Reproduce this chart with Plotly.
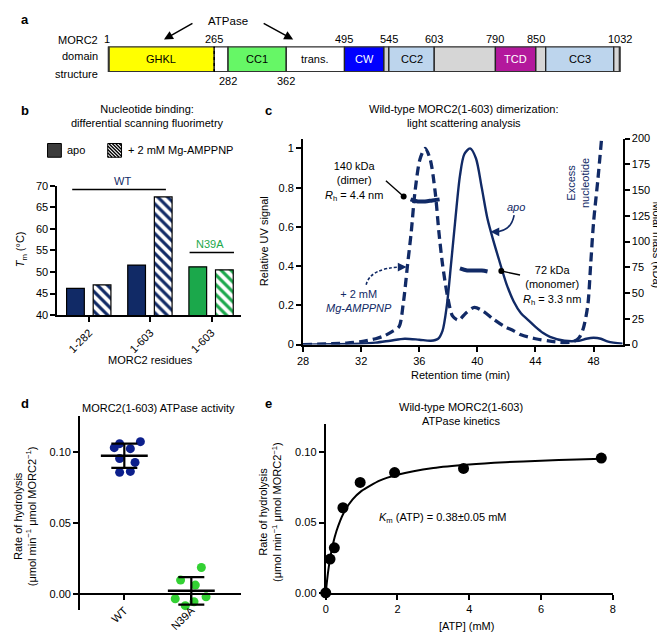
import numpy as np
import plotly.graph_objects as go

W, H = 665, 634
FONT = "Liberation Sans, Arial, Helvetica, sans-serif"
NAVY = "#112a66"
GREEN_B = "#1ba84b"
BLUE_D = "#0c1f8c"
GREEN_D = "#33d133"

# ---------------- panel a : MORC2 domain structure ----------------
DOMAIN_LABELS = ["GHKL", "", "CC1", "trans.", "CW", "", "CC2", "", "TCD", "", "CC3", ""]
DOMAIN_START = [1, 265, 282, 362, 495, 540, 545, 603, 790, 850, 862, 1024]
DOMAIN_END = [265, 282, 362, 495, 540, 545, 603, 790, 850, 862, 1024, 1032]
DOMAIN_COLORS = ["#ffff00", "#ffffff", "#66f766", "#ffffff", "#0000ff", "#cfcfcf",
                 "#bdd5ed", "#d6d6d6", "#b3189c", "#d6d6d6", "#bdd5ed", "#d6d6d6"]
DOMAIN_TEXT_COLORS = ["black", "black", "black", "black", "white", "black",
                      "black", "black", "white", "black", "black", "black"]
RES_LABELS_TOP = [1, 265, 495, 545, 603, 790, 850, 1032]
RES_LABELS_BOTTOM = [282, 362]
# the schematic is not drawn to scale: residue number -> drawing position
SCHEME_RES = [1, 265, 282, 362, 495, 540, 545, 603, 790, 850, 862, 1024, 1032]
SCHEME_POS = [96, 203, 217, 276, 335, 375, 380, 426, 488, 529, 539, 608, 614]

# ---------------- panel b : DSF ----------------
B_CATEGORIES = ["1-282", "1-603", "1-603"]
B_GROUP = ["WT", "WT", "N39A"]
B_TM_APO = [46.2, 51.6, 51.2]
B_TM_AMPPNP = [47.0, 67.4, 50.5]

# ---------------- panel c : SEC-MALS ----------------
C_TIME_APO = [28, 30, 32, 33, 34, 35, 36, 36.8, 37.3, 37.6, 37.9, 38.2, 38.5, 38.8, 39.1,
              39.5, 39.9, 40.3, 40.7, 41.1, 41.5, 42.0, 42.5, 43.0, 43.5, 44.0, 44.5, 45.0,
              46.0, 47.0, 47.5, 48.0, 48.5, 49.0, 50.0]
C_UV_APO = [0.0, 0.002, 0.005, 0.01, 0.02, 0.03, 0.025, 0.02, 0.03, 0.07, 0.2, 0.42, 0.65,
            0.86, 0.97, 1.0, 0.95, 0.8, 0.64, 0.53, 0.43, 0.31, 0.22, 0.16, 0.125, 0.09,
            0.06, 0.04, 0.02, 0.02, 0.03, 0.035, 0.03, 0.015, 0.005]
C_TIME_AMP = [28, 29, 30, 31, 32, 33, 33.6, 34.1, 34.6, 34.9, 35.2, 35.45, 35.7, 36.05,
              36.4, 36.75, 37.1, 37.35, 37.6, 37.95, 38.3, 38.7, 39.2, 39.8, 40.4, 41.1,
              41.8, 42.5, 43.0, 44.0, 45.0, 46.0, 46.6, 47.0, 47.3, 47.6, 47.8, 48.0,
              48.3, 48.55]
C_UV_AMP = [0, 0.002, 0.005, 0.008, 0.015, 0.03, 0.045, 0.065, 0.09, 0.21, 0.41, 0.575,
            0.775, 0.945, 1.0, 0.945, 0.775, 0.575, 0.41, 0.245, 0.145, 0.125, 0.16, 0.19,
            0.17, 0.13, 0.095, 0.07, 0.05, 0.03, 0.018, 0.01, 0.015, 0.035, 0.085, 0.2,
            0.41, 0.625, 0.845, 1.05]
C_MASS_DIMER_T = [35.4, 35.9, 36.4, 36.9, 37.4]
C_MASS_DIMER = [141, 139, 139, 140, 141]
C_MASS_MONO_T = [38.8, 39.3, 39.8, 40.3, 40.7]
C_MASS_MONO = [74, 72, 72, 72, 71]

# ---------------- panel d : ATPase activity ----------------
D_CATEGORIES = ["WT", "N39A"]
D_WT = [0.1029, 0.1057, 0.1022, 0.1071, 0.0953, 0.0925, 0.0855, 0.0862]
D_WT_JITTER = [-0.15, -0.07, 0.09, 0.24, -0.07, 0.16, -0.07, 0.09]
D_N39A = [0.0186, 0.0097, 0.0062, -0.0034, -0.0021, -0.0055, -0.0083]
D_N39A_JITTER = [0.15, -0.16, 0.06, -0.24, 0.22, 0.04, -0.09]

# ---------------- panel e : kinetics ----------------
E_ATP = [0, 0.12, 0.24, 0.48, 0.96, 1.92, 3.84, 7.68]
E_RATE = [0, 0.024, 0.032, 0.0605, 0.0785, 0.0855, 0.0885, 0.0958]
E_FIT_ATP = [0, 0.05, 0.1, 0.2, 0.3, 0.5, 0.75, 1.0, 1.5, 2.0, 3.0, 4.0, 5.0, 6.0, 7.0, 7.7]
E_FIT_RATE = [0, 0.0116, 0.021, 0.0345, 0.044, 0.0568, 0.0664, 0.0725, 0.0798, 0.084,
              0.0888, 0.0913, 0.0929, 0.094, 0.0948, 0.0953]


def X(px):
    return px / W


def Y(py):
    return 1 - py / H


def scheme(res):
    return float(np.interp(res, SCHEME_RES, SCHEME_POS))


def ax(**kw):
    base = dict(showgrid=False, zeroline=False, showline=True, linecolor="black",
                linewidth=2, ticks="outside", ticklen=5, tickwidth=2, tickcolor="black",
                tickfont=dict(size=11, color="black", family=FONT), fixedrange=True)
    base.update(kw)
    return base


fig = go.Figure()
shapes = []
annotations = []


def text(px, py, t, size=11, color="black", xanchor="center", angle=0):
    annotations.append(dict(xref="paper", yref="paper", x=X(px), y=Y(py), text=t,
                            showarrow=False, xanchor=xanchor, yanchor="middle",
                            textangle=angle,
                            font=dict(size=size, color=color, family=FONT)))


def line(x0, y0, x1, y1, color="black", width=1.5, dash="solid"):
    shapes.append(dict(type="line", xref="paper", yref="paper", x0=X(x0), y0=Y(y0),
                       x1=X(x1), y1=Y(y1), line=dict(color=color, width=width, dash=dash)))


def dot(px, py, r=3):
    shapes.append(dict(type="circle", xref="paper", yref="paper", x0=X(px - r), x1=X(px + r),
                       y0=Y(py + r), y1=Y(py - r), fillcolor="black",
                       line=dict(color="black", width=0)))


def arrowhead(px, py, dx, dy, color="black"):
    annotations.append(dict(xref="paper", yref="paper", x=X(px), y=Y(py), ax=dx, ay=dy,
                            text="", showarrow=True, arrowhead=2, arrowsize=1.1,
                            arrowwidth=1.6, arrowcolor=color))


def qpath(p0, c, p1, color, width=1.6, dash="solid"):
    path = "M {} {} Q {} {} {} {}".format(X(p0[0]), Y(p0[1]), X(c[0]), Y(c[1]),
                                          X(p1[0]), Y(p1[1]))
    shapes.append(dict(type="path", xref="paper", yref="paper", path=path,
                       line=dict(color=color, width=width, dash=dash)))


# ===== panel a =====
starts = [scheme(s) for s in DOMAIN_START]
ends = [scheme(e) for e in DOMAIN_END]
fig.add_trace(go.Bar(orientation="h", y=[0.5] * len(starts), base=starts,
                     x=[e - s for s, e in zip(starts, ends)], width=1,
                     marker=dict(color=DOMAIN_COLORS, line=dict(color="#222", width=1.3)),
                     xaxis="x", yaxis="y", showlegend=False, hoverinfo="skip"))
for lab, s, e, tc in zip(DOMAIN_LABELS, starts, ends, DOMAIN_TEXT_COLORS):
    if lab:
        annotations.append(dict(xref="x", yref="y", x=(s + e) / 2, y=0.5, text=lab,
                                showarrow=False, font=dict(size=11, color=tc, family=FONT)))
shapes.append(dict(type="rect", xref="x", yref="y", x0=starts[0], x1=ends[-1], y0=0, y1=1,
                   line=dict(color="#333", width=2)))
shapes.append(dict(type="line", xref="x", yref="y", x0=scheme(265), x1=scheme(265), y0=0,
                   y1=1, line=dict(color="black", width=1.5, dash="dot")))
for r in RES_LABELS_TOP:
    annotations.append(dict(xref="x", yref="paper", x=scheme(r) - (2 if r == 1 else 0),
                            y=Y(25), text=str(r), showarrow=False, yanchor="middle",
                            font=dict(size=11, color="black", family=FONT)))
for r in RES_LABELS_BOTTOM:
    annotations.append(dict(xref="x", yref="paper", x=scheme(r), y=Y(68), text=str(r),
                            showarrow=False, yanchor="middle",
                            font=dict(size=11, color="black", family=FONT)))
text(87, 26, "MORC2", xanchor="right")
text(87, 43, "domain", xanchor="right")
text(87, 61, "structure", xanchor="right")
text(217, 7, "ATPase", size=11.5)
annotations.append(dict(xref="paper", yref="paper", x=X(152), y=Y(26), ax=30, ay=-17,
                        text="", showarrow=True, arrowhead=2, arrowsize=1.2, arrowwidth=1.5,
                        arrowcolor="black"))
annotations.append(dict(xref="paper", yref="paper", x=X(283), y=Y(26), ax=-31, ay=-17,
                        text="", showarrow=True, arrowhead=2, arrowsize=1.2, arrowwidth=1.5,
                        arrowcolor="black"))

# ===== panel b =====
b_col = [NAVY if g == "WT" else GREEN_B for g in B_GROUP]
bx = list(range(len(B_CATEGORIES)))
fig.add_trace(go.Bar(x=bx, y=B_TM_APO, width=0.29, offset=-0.37, xaxis="x2", yaxis="y2",
                     marker=dict(color=b_col, line=dict(color="black", width=1.2)),
                     showlegend=False, hoverinfo="skip"))
fig.add_trace(go.Bar(x=bx, y=B_TM_AMPPNP, width=0.29, offset=0.065, xaxis="x2", yaxis="y2",
                     marker=dict(color="white", line=dict(color="black", width=1.2),
                                 pattern=dict(shape="\\", fgcolor=b_col, bgcolor="white",
                                              fillmode="replace", size=7, solidity=0.45)),
                     showlegend=False, hoverinfo="skip"))
text(135, 104, "Nucleotide binding:<br>differential scanning fluorimetry")
# legend swatches
shapes.append(dict(type="rect", xref="paper", yref="paper", x0=X(34), x1=X(48), y0=Y(146),
                   y1=Y(132), fillcolor="#3c3c3c", line=dict(color="black", width=1)))
text(52, 139, "apo", xanchor="left")
hx0, hy0, hx1, hy1 = 95, 132, 109, 146
for d in np.arange(-(hy1 - hy0) + 1, hx1 - hx0, 3.5):
    t0 = max(0, -d)
    t1 = min(hy1 - hy0, (hx1 - hx0) - d)
    if t1 > t0:
        line(hx0 + d + t0, hy0 + t0, hx0 + d + t1, hy0 + t1, width=1.4)
shapes.append(dict(type="rect", xref="paper", yref="paper", x0=X(hx0), x1=X(hx1),
                   y0=Y(hy1), y1=Y(hy0), line=dict(color="black", width=1)))
text(114, 139, "+ 2 mM Mg-AMPPNP", xanchor="left")
line(59, 179, 154, 179, width=1.5)
text(110, 170, "WT", color=NAVY)
line(178, 243, 223, 243, width=1.5)
text(199, 234, "N39A", color=GREEN_B)
text(8, 240, "<i>T</i><sub>m</sub> (°C)", angle=-90)
text(138, 353, "MORC2 residues")

# ===== panel c =====
fig.add_trace(go.Scatter(x=C_TIME_APO, y=C_UV_APO, mode="lines", xaxis="x3", yaxis="y3",
                         line=dict(color=NAVY, width=2.4, shape="spline", smoothing=0.8),
                         showlegend=False, hoverinfo="skip"))
fig.add_trace(go.Scatter(x=C_TIME_AMP, y=C_UV_AMP, mode="lines", xaxis="x3", yaxis="y3",
                         line=dict(color=NAVY, width=3.3, dash="9px,5px", shape="spline",
                                   smoothing=0.8),
                         showlegend=False, hoverinfo="skip"))
for tt, mm in ((C_MASS_DIMER_T, C_MASS_DIMER), (C_MASS_MONO_T, C_MASS_MONO)):
    fig.add_trace(go.Scatter(x=tt, y=mm, mode="lines", xaxis="x3", yaxis="y4",
                             line=dict(color=NAVY, width=4, shape="spline"),
                             showlegend=False, hoverinfo="skip"))
text(456, 104, "Wild-type MORC2(1-603) dimerization:<br>light scattering analysis")
text(345, 171, "140 kDa<br>(dimer)<br><i>R</i><sub>h</sub> = 4.4 nm")
line(377, 170, 395, 186, width=1.4)
dot(395, 186)
text(545, 277, "72 kDa<br>(monomer)<br><i>R</i><sub>h</sub> = 3.3 nm")
line(494, 262, 513, 266, width=1.4)
dot(494, 262)
text(509, 197, "<i>apo</i>", color=NAVY)
qpath((507, 205), (504, 222), (487, 222), NAVY)
arrowhead(483, 222, 7, 0, NAVY)
text(350, 293, "+ 2 mM<br><i>Mg-AMPPNP</i>", color=NAVY)
qpath((357, 276), (361, 259), (392, 258), NAVY, dash="3px,2px")
arrowhead(398, 258, -7, 0, NAVY)
text(571, 172, "Excess<br>nucleotide", color=NAVY, angle=-90)
text(253, 232, "Relative UV signal", angle=-90)
text(652, 235, "Molar mass (kDa)", angle=90)
text(453, 368, "Retention time (min)")

# ===== panel d =====
d_series = [(0, D_WT, D_WT_JITTER, BLUE_D), (1, D_N39A, D_N39A_JITTER, GREEN_D)]
for c, vals, jit, colr in d_series:
    fig.add_trace(go.Scatter(x=[c + j for j in jit], y=vals, mode="markers", xaxis="x5",
                             yaxis="y5", marker=dict(color=colr, size=9),
                             showlegend=False, hoverinfo="skip", cliponaxis=False))
for c, vals, jit, colr in d_series:
    m = float(np.mean(vals))
    sd = float(np.std(vals, ddof=1))
    fig.add_trace(go.Scatter(x=[c], y=[m], mode="markers", xaxis="x5", yaxis="y5",
                             marker=dict(size=1, color="rgba(0,0,0,0)"),
                             error_y=dict(type="data", array=[sd], color="black",
                                          thickness=2.2, width=13),
                             showlegend=False, hoverinfo="skip", cliponaxis=False))
    fig.add_trace(go.Scatter(x=[c - 0.35, c + 0.35], y=[m, m], mode="lines", xaxis="x5",
                             yaxis="y5", line=dict(color="black", width=2.4),
                             showlegend=False, hoverinfo="skip", cliponaxis=False))
text(146, 402, "MORC2(1-603) ATPase activity")
text(11, 512, "Rate of hydrolysis<br>(μmol min<sup>−1</sup> μmol MORC2<sup>−1</sup>)", angle=-90)

# ===== panel e =====
fig.add_trace(go.Scatter(x=E_FIT_ATP, y=E_FIT_RATE, mode="lines", xaxis="x6", yaxis="y6",
                         line=dict(color="black", width=2, shape="spline", smoothing=0.6),
                         showlegend=False, hoverinfo="skip"))
fig.add_trace(go.Scatter(x=E_ATP, y=E_RATE, mode="markers", xaxis="x6", yaxis="y6",
                         marker=dict(color="black", size=11), cliponaxis=False,
                         showlegend=False, hoverinfo="skip"))
text(453, 408, "Wild-type MORC2(1-603)<br>ATPase kinetics")
text(368, 514, "<i>K</i><sub>m</sub> (ATP) = 0.38±0.05 mM", xanchor="left")
text(260, 507, "Rate of hydrolysis<br>(μmol min<sup>−1</sup> μmol MORC2<sup>−1</sup>)", angle=-90)
text(459, 624, "[ATP] (mM)")

# panel letters
for lt, px, py in (("a", 5, 6), ("b", 5, 98), ("c", 252, 98), ("d", 5, 397), ("e", 252, 397)):
    text(px, py, "<b>{}</b>".format(lt), size=13, xanchor="left")

fig.update_layout(
    width=W, height=H, margin=dict(l=0, r=0, t=0, b=0),
    paper_bgcolor="white", plot_bgcolor="white", barmode="overlay",
    font=dict(family=FONT, size=11, color="black"), showlegend=False,
    xaxis=dict(domain=[0, 1], range=[0, W], visible=False, fixedrange=True),
    yaxis=dict(domain=[Y(59), Y(33)], range=[0, 1], visible=False, fixedrange=True),
    xaxis2=ax(domain=[X(44), X(230)], range=[-0.52, 2.48], anchor="y2", tickvals=bx,
              ticktext=B_CATEGORIES, tickangle=-45),
    yaxis2=ax(domain=[Y(307), Y(175)], range=[40, 70], anchor="x2", dtick=5),
    xaxis3=ax(domain=[X(293), X(617)], range=[28, 50], anchor="y3",
              tickvals=[28, 32, 36, 40, 44, 48]),
    yaxis3=ax(domain=[Y(337), Y(127)], range=[0, 1.05], anchor="x3",
              tickvals=[0, 0.2, 0.4, 0.6, 0.8, 1]),
    yaxis4=ax(domain=[Y(337), Y(127)], range=[0, 200], anchor="x3", overlaying="y3",
              side="right", dtick=25),
    xaxis5=ax(domain=[X(67), X(230)], range=[-0.66, 1.74], anchor="free", position=Y(591),
              tickvals=[0, 1], ticktext=D_CATEGORIES, tickangle=-45),
    yaxis5=ax(domain=[Y(607), Y(410)], range=[-0.011, 0.125], anchor="x5",
              tickvals=[0, 0.05, 0.1], tickformat=".2f"),
    xaxis6=ax(domain=[X(316), X(607)], range=[0, 8], anchor="y6", dtick=2),
    yaxis6=ax(domain=[Y(590), Y(418)], range=[0, 0.12], anchor="x6",
              tickvals=[0, 0.05, 0.1], tickformat=".2f"),
    shapes=shapes, annotations=annotations,
)

fig.write_html("out.html")
